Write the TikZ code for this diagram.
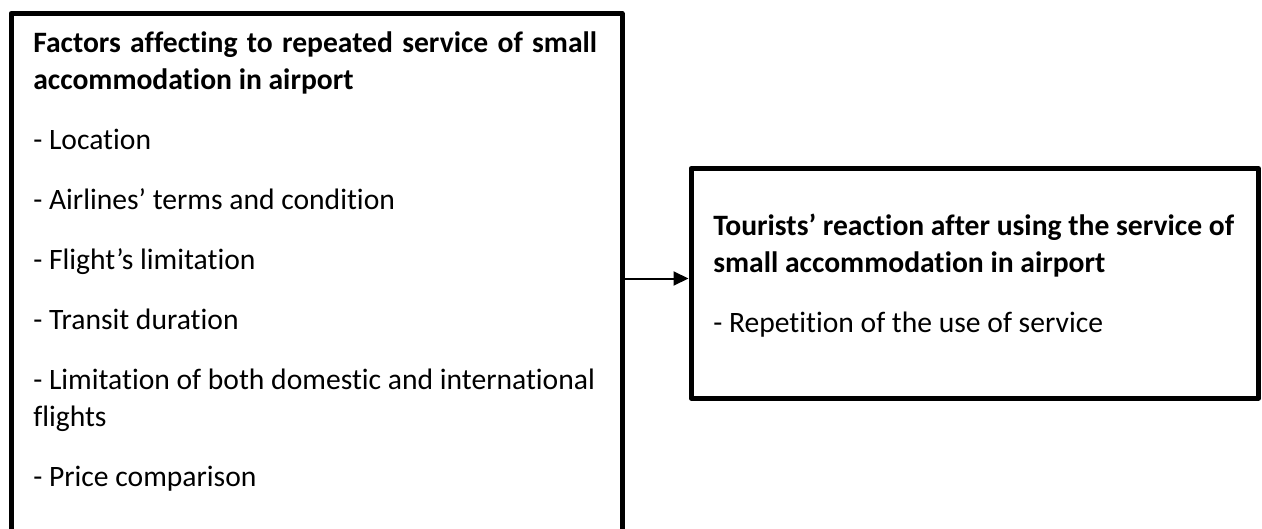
\documentclass[tikz,border=0pt]{standalone}
\usepackage{fontspec}
\setmainfont{Carlito}[Ligatures={TeX,CommonOff}]
\usetikzlibrary{arrows.meta}
\begin{document}
\begin{tikzpicture}[x=0.75pt,y=-0.75pt,
  panel/.style={draw=black, line width=3.75pt, inner sep=0pt, line join=round},
  body/.style={anchor=base west, inner sep=0pt, align=left,
    font=\fontsize{22.2pt}{27.4pt}\selectfont},
  flow/.style={line width=1.5pt, -{Triangle[length=11.25pt,width=10.5pt]}}]
\useasboundingbox (0,0) rectangle (1262,528);
\clip (0,0) rectangle (1262,528);

% the two frames
\node[panel, minimum width=458.25pt, minimum height=409.875pt] (factors) at (316.5,286.75) {};
\node[panel, minimum width=425.625pt, minimum height=172.125pt] (reaction) at (974.75,283.25) {};

% frame contents (placed by the baseline of their last line)
\node[body] (factorstext) at (33,486) {%
  \makebox[423pt][s]{\textbf{Factors affecting to repeated service of small}}\\
  \textbf{accommodation in airport}\\[17.6pt]
  - Location\\[17.6pt]
  - Airlines’ terms and condition\\[17.6pt]
  - Flight’s limitation\\[17.6pt]
  - Transit duration\\[17.6pt]
  - Limitation of both domestic and international\\
  flights\\[17.6pt]
  - Price comparison};
\node[body] (reactiontext) at (713,332) {%
  \textbf{Tourists’ reaction after using the service of}\\
  \textbf{small accommodation in airport}\\[17.6pt]
  - Repetition of the use of service};

% link between the frames
\coordinate (arrowlevel) at (0,278.5);
\draw[flow] (factors.east |- arrowlevel) -- (reaction.west |- arrowlevel);
\end{tikzpicture}
\end{document}
